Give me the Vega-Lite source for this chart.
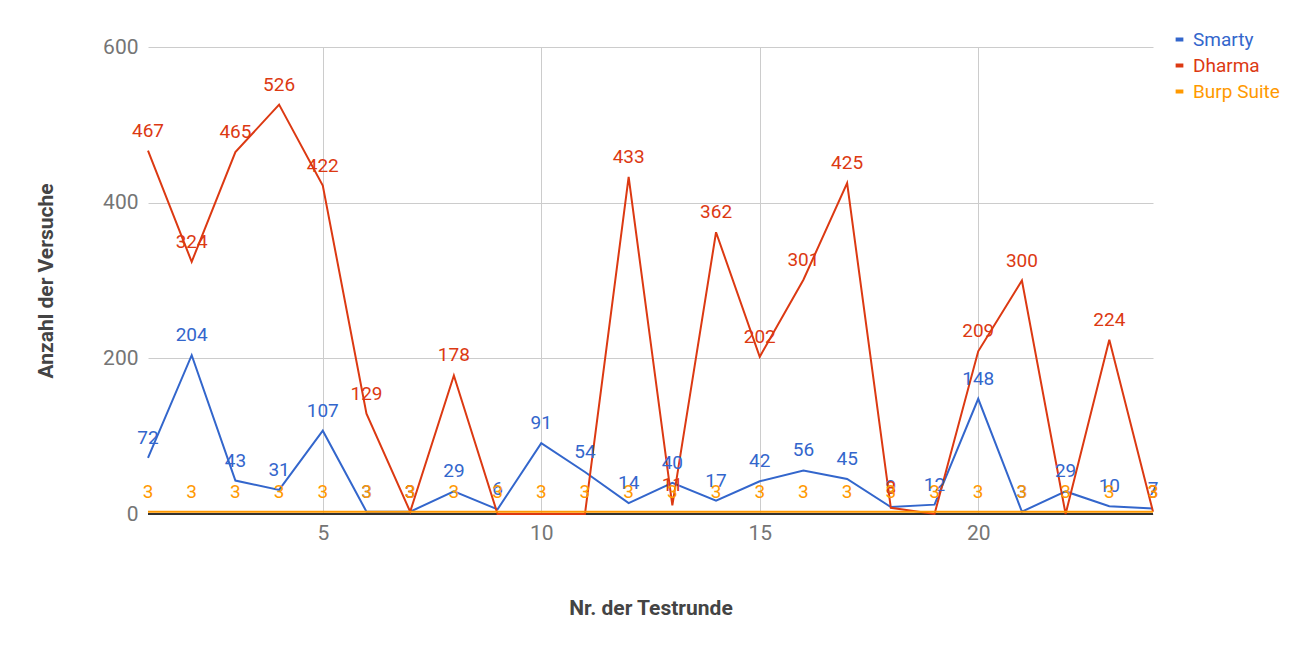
{
  "$schema": "https://vega.github.io/schema/vega-lite/v6.json",
  "width": 1005,
  "height": 467,
  "autosize": "none",
  "padding": {"left": 148, "top": 47, "right": 158, "bottom": 139},
  "config": {"font": "Roboto", "view": {"stroke": null}},
  "data": {"values": [
    {"r":1,"s":"Smarty","v":72},{"r":2,"s":"Smarty","v":204},{"r":3,"s":"Smarty","v":43},{"r":4,"s":"Smarty","v":31},{"r":5,"s":"Smarty","v":107},{"r":6,"s":"Smarty","v":3},{"r":7,"s":"Smarty","v":3},{"r":8,"s":"Smarty","v":29},{"r":9,"s":"Smarty","v":6},{"r":10,"s":"Smarty","v":91},{"r":11,"s":"Smarty","v":54},{"r":12,"s":"Smarty","v":14},{"r":13,"s":"Smarty","v":40},{"r":14,"s":"Smarty","v":17},{"r":15,"s":"Smarty","v":42},{"r":16,"s":"Smarty","v":56},{"r":17,"s":"Smarty","v":45},{"r":18,"s":"Smarty","v":9},{"r":19,"s":"Smarty","v":12},{"r":20,"s":"Smarty","v":148},{"r":21,"s":"Smarty","v":3},{"r":22,"s":"Smarty","v":29},{"r":23,"s":"Smarty","v":10},{"r":24,"s":"Smarty","v":7},
    {"r":1,"s":"Dharma","v":467},{"r":2,"s":"Dharma","v":324},{"r":3,"s":"Dharma","v":465},{"r":4,"s":"Dharma","v":526},{"r":5,"s":"Dharma","v":422},{"r":6,"s":"Dharma","v":129},{"r":7,"s":"Dharma","v":3},{"r":8,"s":"Dharma","v":178},{"r":9,"s":"Dharma","v":0},{"r":10,"s":"Dharma","v":0},{"r":11,"s":"Dharma","v":0},{"r":12,"s":"Dharma","v":433},{"r":13,"s":"Dharma","v":11},{"r":14,"s":"Dharma","v":362},{"r":15,"s":"Dharma","v":202},{"r":16,"s":"Dharma","v":301},{"r":17,"s":"Dharma","v":425},{"r":18,"s":"Dharma","v":8},{"r":19,"s":"Dharma","v":0},{"r":20,"s":"Dharma","v":209},{"r":21,"s":"Dharma","v":300},{"r":22,"s":"Dharma","v":0},{"r":23,"s":"Dharma","v":224},{"r":24,"s":"Dharma","v":3},
    {"r":1,"s":"Burp Suite","v":3},{"r":2,"s":"Burp Suite","v":3},{"r":3,"s":"Burp Suite","v":3},{"r":4,"s":"Burp Suite","v":3},{"r":5,"s":"Burp Suite","v":3},{"r":6,"s":"Burp Suite","v":3},{"r":7,"s":"Burp Suite","v":3},{"r":8,"s":"Burp Suite","v":3},{"r":9,"s":"Burp Suite","v":3},{"r":10,"s":"Burp Suite","v":3},{"r":11,"s":"Burp Suite","v":3},{"r":12,"s":"Burp Suite","v":3},{"r":13,"s":"Burp Suite","v":3},{"r":14,"s":"Burp Suite","v":3},{"r":15,"s":"Burp Suite","v":3},{"r":16,"s":"Burp Suite","v":3},{"r":17,"s":"Burp Suite","v":3},{"r":18,"s":"Burp Suite","v":3},{"r":19,"s":"Burp Suite","v":3},{"r":20,"s":"Burp Suite","v":3},{"r":21,"s":"Burp Suite","v":3},{"r":22,"s":"Burp Suite","v":3},{"r":23,"s":"Burp Suite","v":3},{"r":24,"s":"Burp Suite","v":3}
  ]},
  "encoding": {
    "x": {"field": "r", "type": "quantitative", "scale": {"domain": [1, 24], "nice": false, "zero": false},
      "axis": {"values": [5, 10, 15, 20], "title": "Nr. der Testrunde", "titleFontSize": 21, "titleColor": "#444", "titlePadding": 54, "labelFontSize": 21, "labelColor": "#757575", "labelPadding": 8, "ticks": false, "domain": false, "gridColor": "#ccc"}},
    "y": {"field": "v", "type": "quantitative", "scale": {"domain": [0, 600]},
      "axis": {"values": [0, 200, 400, 600], "title": "Anzahl der Versuche", "titleFontSize": 21, "titleColor": "#444", "titlePadding": 46, "labelFontSize": 21, "labelColor": "#757575", "labelPadding": 10, "ticks": false, "domain": false, "gridColor": "#ccc"}},
    "color": {"field": "s", "type": "nominal", "sort": ["Smarty", "Dharma", "Burp Suite"],
      "scale": {"domain": ["Smarty", "Dharma", "Burp Suite"], "range": ["#3366cc", "#dc3912", "#ff9900"]},
      "legend": {"title": null, "orient": "none", "legendX": 1022, "legendY": -17, "symbolType": "stroke", "symbolStrokeWidth": 4, "symbolSize": 60, "labelFontSize": 19, "rowPadding": 6,
        "labelColor": {"expr": "datum.label == 'Smarty' ? '#3366cc' : datum.label == 'Dharma' ? '#dc3912' : '#ff9900'"}}}
  },
  "layer": [
    {"mark": {"type": "rule", "color": "#333", "strokeWidth": 1.5}, "encoding": {"x": null, "color": null, "y": {"datum": 0}}},
    {"mark": {"type": "line", "strokeWidth": 2}},
    {"transform": [{"filter": "datum.v != 0"}], "mark": {"type": "text", "fontSize": 19, "dy": -20}, "encoding": {"text": {"field": "v"}}}
  ]
}
